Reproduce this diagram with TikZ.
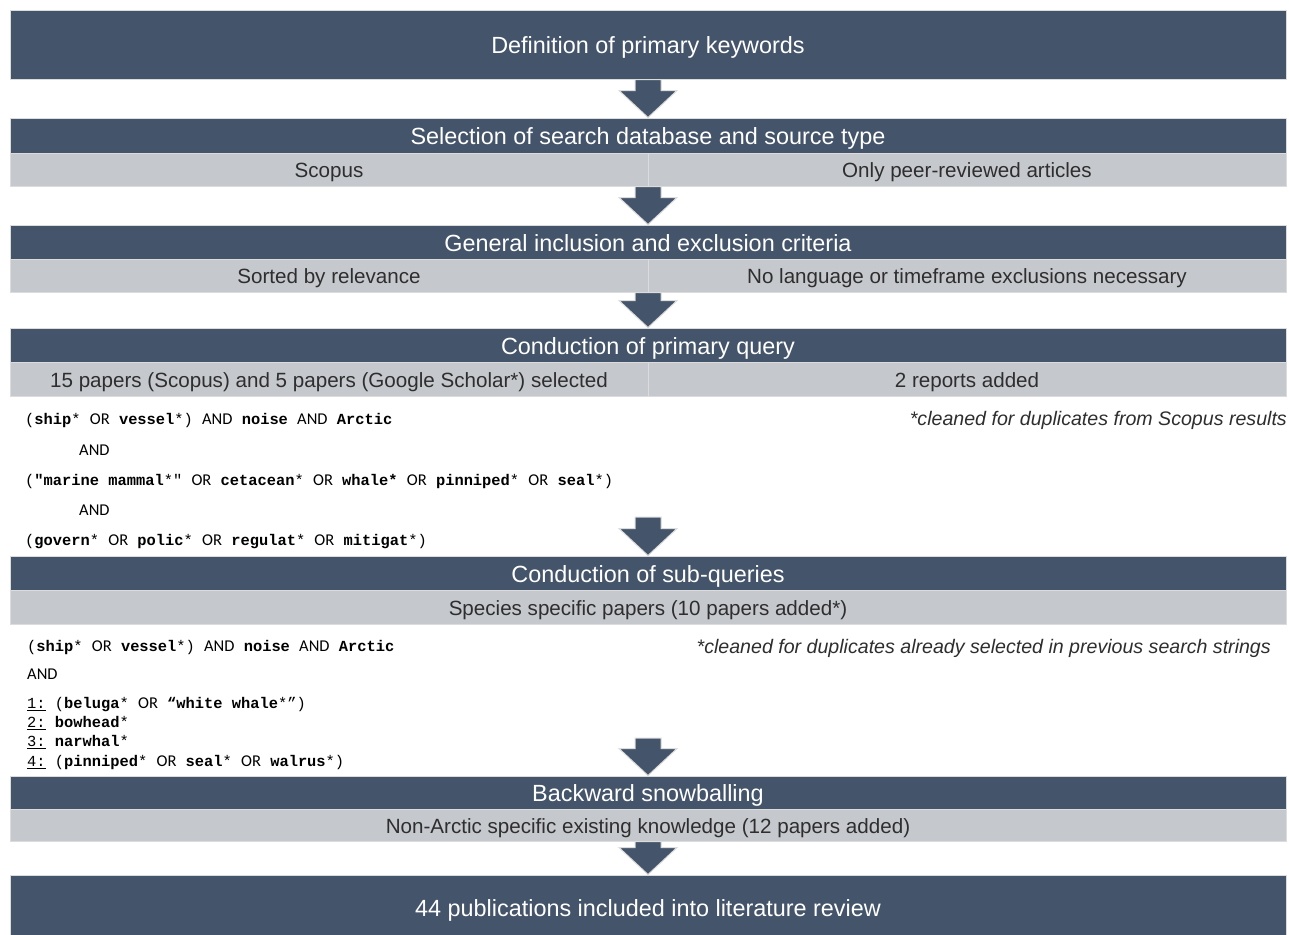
\documentclass[tikz,border=0pt]{standalone}
\usepackage{fontspec}
\setmainfont{Liberation Sans}
\newfontfamily\codefont{Liberation Mono}
\newfontfamily\opfont{Carlito}
\usetikzlibrary{calc}
\definecolor{slate}{HTML}{44546A}
\definecolor{lightrow}{HTML}{C5C8CC}
\definecolor{edgegray}{HTML}{DCDCDC}
\definecolor{txtgray}{HTML}{2E2E2E}
\newcommand\kw[1]{{\codefont\bfseries #1}}
\newcommand\cf[1]{{\codefont #1}}
\newcommand\op[1]{{\opfont\fontsize{16.5}{18}\selectfont #1}}
\newcommand\blockarr[2]{%
  \draw[arrowsty] let \p1=(#1), \p2=(#2) in
    (\x2-13pt,\y1) -- (\x2+13pt,\y1) -- (\x2+13pt,\y2+27pt) -- (\x2+29pt,\y2+27pt)
    -- (\x2,\y2) -- (\x2-29pt,\y2+27pt) -- (\x2-13pt,\y2+27pt) -- cycle;}
\tikzset{
  headtext/.style={text=white, font=\fontsize{23.4}{26}\selectfont,
    text height=21pt, text depth=3pt},
  darkbox/.style={rectangle, fill=slate, draw=edgegray, line width=1pt, inner sep=0pt,
    minimum width=1276pt, headtext},
  lightcell/.style={rectangle, fill=lightrow, draw=edgegray, line width=1pt, inner sep=0pt,
    minimum height=33pt, text=txtgray, font=\fontsize{20.6}{24}\selectfont,
    text height=19.7pt, text depth=3pt},
  arrowsty/.style={fill=slate, draw=edgegray, line width=1pt, line join=miter},
  codeline/.style={anchor=west, inner sep=0pt, text=black, font=\codefont\fontsize{15.4}{18}\selectfont,
    text height=15pt, text depth=2pt},
  note/.style={anchor=east, inner sep=0pt, text=txtgray, font=\itshape\fontsize{19.6}{22}\selectfont,
    text height=17pt, text depth=3pt}
}
\begin{document}
\begin{tikzpicture}[x=1pt,y=-1pt]
\useasboundingbox[fill=white] (0,0) rectangle (1289,934);

% Box 1
\node[darkbox, minimum height=68pt] (b1) at (648,45) {Definition of primary keywords};

% Box 2
\node[darkbox, minimum height=35pt] (b2) at (648,135.5) {Selection of search database and source type};
\node[lightcell, minimum width=638pt] (b2l) at (329,169.5) {Scopus};
\node[lightcell, minimum width=638pt] (b2r) at (967,169.5) {Only peer-reviewed articles};

% Box 3
\node[darkbox, minimum height=34pt] (b3) at (648,242) {General inclusion and exclusion criteria};
\node[lightcell, minimum width=638pt] (b3l) at (329,275.5) {Sorted by relevance};
\node[lightcell, minimum width=638pt] (b3r) at (967,275.5) {No language or timeframe exclusions necessary};

% Box 4
\node[darkbox, minimum height=34pt] (b4) at (648,345) {Conduction of primary query};
\node[lightcell, minimum width=638pt, minimum height=34pt] (b4l) at (329,379) {15 papers (Scopus) and 5 papers (Google Scholar*) selected};
\node[lightcell, minimum width=638pt, minimum height=34pt] (b4r) at (967,379) {2 reports added};

% Query 1
\node[codeline] (q1a) at (25,418) {\cf{(}\kw{ship}\cf{*} \op{OR} \kw{vessel}\cf{*)} \op{AND} \kw{noise} \op{AND} \kw{Arctic}};
\node[codeline] (q1b) at (79,449) {\op{AND}};
\node[codeline] (q1c) at (25,479) {\cf{(}\kw{"marine mammal}\cf{*"} \op{OR} \kw{cetacean}\cf{*} \op{OR} \kw{whale*} \op{OR} \kw{pinniped}\cf{*} \op{OR} \kw{seal}\cf{*)}};
\node[codeline] (q1d) at (79,509) {\op{AND}};
\node[codeline] (q1e) at (25,539) {\cf{(}\kw{govern}\cf{*} \op{OR} \kw{polic}\cf{*} \op{OR} \kw{regulat}\cf{*} \op{OR} \kw{mitigat}\cf{*)}};
\node[note] (n1) at (1287,418) {*cleaned for duplicates from Scopus results};

% Box 5
\node[darkbox, minimum height=34pt] (b5) at (648,573) {Conduction of sub-queries};
\node[lightcell, minimum width=1276pt, minimum height=34pt] (b5l) at (648,607) {Species specific papers (10 papers added*)};

% Query 2
\node[codeline] (q2a) at (27,645) {\cf{(}\kw{ship}\cf{*} \op{OR} \kw{vessel}\cf{*)} \op{AND} \kw{noise} \op{AND} \kw{Arctic}};
\node[codeline] (q2b) at (27,673) {\op{AND}};
\node[codeline] (q2c) at (27,702) {\cf{\underline{1:}} \cf{(}\kw{beluga}\cf{*} \op{OR} \kw{“white whale}\cf{*”)}};
\node[codeline] (q2d) at (27,721) {\cf{\underline{2:}} \kw{bowhead}\cf{*}};
\node[codeline] (q2e) at (27,740) {\cf{\underline{3:}} \kw{narwhal}\cf{*}};
\node[codeline] (q2f) at (27,760) {\cf{\underline{4:}} \cf{(}\kw{pinniped}\cf{*} \op{OR} \kw{seal}\cf{*} \op{OR} \kw{walrus}\cf{*)}};
\node[note] (n2) at (1271,646) {*cleaned for duplicates already selected in previous search strings};

% Box 6
\node[darkbox, minimum height=33pt] (b6) at (648,792.5) {Backward snowballing};
\node[lightcell, minimum width=1276pt, minimum height=32pt] (b6l) at (648,825) {Non-Arctic specific existing knowledge (12 papers added)};

% Box 7
\node[darkbox, minimum height=70pt] (b7) at (648,910) {};
\node[inner sep=0pt, headtext] (b7t) at (648,907) {44 publications included into literature review};

% Arrows
\coordinate (a4top) at (648,517);
\coordinate (a5top) at (648,738);
\blockarr{b1.south}{b2.north}
\blockarr{b2l.south east}{b3.north}
\blockarr{b3l.south east}{b4.north}
\blockarr{a4top}{b5.north}
\blockarr{a5top}{b6.north}
\blockarr{b6l.south}{b7.north}
\end{tikzpicture}
\end{document}
